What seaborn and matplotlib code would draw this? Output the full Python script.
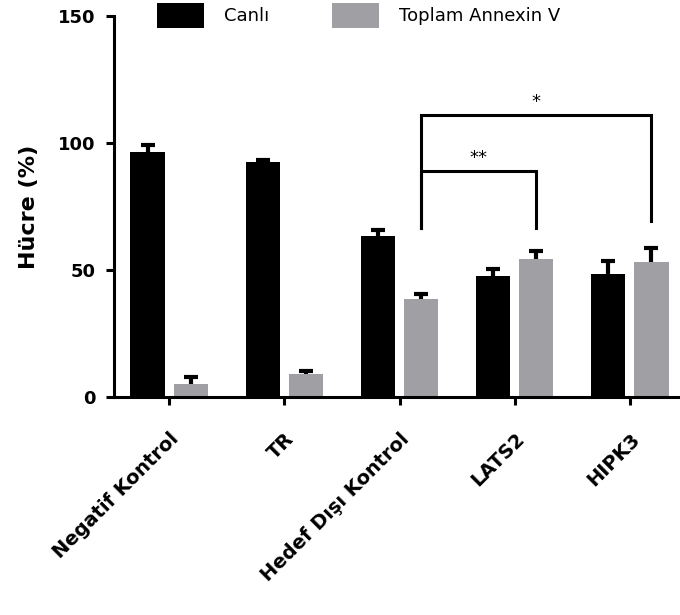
import pandas as pd
import seaborn as sns
import matplotlib.pyplot as plt
import numpy as np
from matplotlib.patches import Patch

plt.rcParams['font.family'] = 'DejaVu Sans'

kategoriler = ['Negatif Kontrol', 'TR', 'Hedef Dışı Kontrol', 'LATS2', 'HIPK3']
seriler = ['Canlı', 'Toplam Annexin V']
canli = [96.4, 92.4, 63.5, 47.8, 48.6]
canli_sd = [2.9, 1.0, 2.5, 2.9, 5.1]
annexin = [5.4, 9.2, 38.6, 54.3, 53.4]
annexin_sd = [2.7, 1.2, 2.1, 3.3, 5.2]
renkler = ['#000000', '#a0a0a4']
y_ticks = [0, 50, 100, 150]

# (from, to, bracket height, left leg end, right leg end, label)
anlamlilik = [
    ('Hedef Dışı Kontrol', 'LATS2', 89.0, 66.6, 66.6, '**'),
    ('Hedef Dışı Kontrol', 'HIPK3', 111.1, 66.6, 69.5, '*'),
]

df = pd.DataFrame({
    'grup': kategoriler * 2,
    'seri': [seriler[0]] * 5 + [seriler[1]] * 5,
    'yuzde': canli + annexin,
})
sd_list = [canli_sd, annexin_sd]

fig = plt.figure(figsize=(6.8, 6.15), dpi=100)
ax = fig.add_axes([113.5 / 680, 0.3537, 1 - 113.5 / 680, 0.974 - 0.3537])

sns.barplot(data=df, x='grup', y='yuzde', hue='seri', order=kategoriler,
            hue_order=seriler, palette=renkler, saturation=1, width=0.75,
            gap=0.21, errorbar=None, legend=False, linewidth=0, ax=ax)

# error bars (upper half only), positions taken from the drawn bars
xs, ys, es = [], [], []
merkez = {}
for p in ax.patches:
    cx = p.get_x() + p.get_width() / 2
    ci = int(round(cx))
    hi = 0 if cx < ci else 1
    merkez[(ci, hi)] = cx
    xs.append(cx)
    ys.append(p.get_height())
    es.append(sd_list[hi][ci])
eb = ax.errorbar(xs, ys, yerr=[np.zeros(len(es)), es], fmt='none',
                 ecolor='black', elinewidth=3, capsize=5, capthick=3, zorder=3)
eb.lines[1][0].set_visible(False)

# significance brackets between the grey bars
for a, b, top, lb, rb, txt in anlamlilik:
    x1 = merkez[(kategoriler.index(a), 1)]
    x2 = merkez[(kategoriler.index(b), 1)]
    ax.plot([x1, x1, x2, x2], [lb, top, top, rb], color='black', lw=2.2,
            solid_joinstyle='miter', clip_on=False, zorder=4)
    ax.text((x1 + x2) / 2, top + 1.5, txt, ha='center', va='bottom',
            fontsize=13, color='black')

ax.set_xlim(-0.483, 4.435)
ax.set_ylim(0, 150)
ax.set_yticks(y_ticks)
ax.set_xlabel('')
ax.set_ylabel('Hücre (%)', fontsize=16, fontweight='bold', labelpad=14)

for s in ['top', 'right']:
    ax.spines[s].set_visible(False)
for s in ['left', 'bottom']:
    ax.spines[s].set_linewidth(2.2)
ax.tick_params(axis='both', direction='out', length=6, width=2.2, color='black')
ax.tick_params(axis='y', labelsize=13, pad=7)
ax.tick_params(axis='x', labelsize=14, pad=17)
for t in ax.get_yticklabels():
    t.set_fontweight('bold')
for t in ax.get_xticklabels():
    t.set_rotation(45)
    t.set_ha('right')
    t.set_rotation_mode('anchor')
    t.set_fontweight('bold')

handles = [Patch(facecolor=c, edgecolor='none') for c in renkler]
fig.legend(handles, seriler, loc='upper left', bbox_to_anchor=(157 / 680, 1 - 3 / 615),
           ncol=2, frameon=False, fontsize=13, handlelength=2.6, handleheight=1.76,
           handletextpad=1.1, columnspacing=3.5, borderpad=0, borderaxespad=0)

fig.savefig('out.png', dpi=100)
